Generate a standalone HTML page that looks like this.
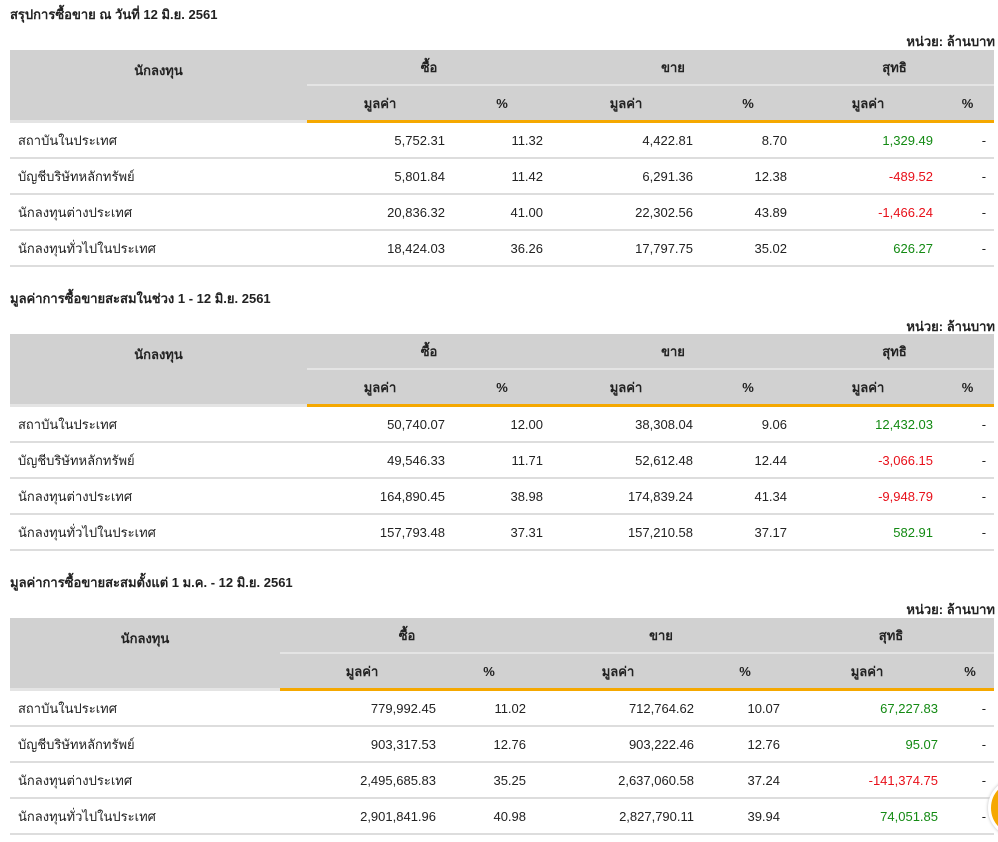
<!DOCTYPE html>
<html><head><meta charset="utf-8">
<style>
body{margin:0;width:998px;height:842px;overflow:hidden;background:#fff;font-family:"Liberation Sans","Noto Sans CJK SC",sans-serif;color:#222;font-size:13px;position:relative}
.t{position:absolute;left:10px;font-weight:bold;font-size:13px}
.u{position:absolute;right:3px;font-weight:bold;font-size:13px}
table{position:absolute;left:10px;border-collapse:separate;border-spacing:0;table-layout:fixed;width:984px}
th{background:#d1d1d1;font-weight:bold;font-size:13px;height:34px;padding:0;text-align:center}
tr.h1 th{border-bottom:2px solid #e4e4e4}
tr.h2 th{height:34px;border-bottom:3px solid #f5a800}
th.inv{vertical-align:top;padding-top:10px;border-bottom:3px solid #e4e4e4 !important}
td{height:34px;border-bottom:2px solid #ddd;padding:0 8px 0 0;text-align:right;font-size:13px}
td.n{text-align:left;padding-left:8px}
.g{color:#138a13}.r{color:#e8101a}
.c{position:absolute;left:988px;top:778px;width:54px;height:54px;border-radius:50%;background:#f5a800;border:3px solid #fff;box-shadow:0 0 3px #bbb}
</style></head><body>
<div class="t" style="top:4px">สรุปการซื้อขาย ณ วันที่ 12 มิ.ย. 2561</div>
<div class="u" style="top:31px">หน่วย: ล้านบาท</div>
<table style="top:50px">
<colgroup><col style="width:297px"><col style="width:146px"><col style="width:98px"><col style="width:150px"><col style="width:94px"><col style="width:146px"><col style="width:53px"></colgroup>
<tr class="h1"><th rowspan="2" class="inv">นักลงทุน</th><th colspan="2">ซื้อ</th><th colspan="2">ขาย</th><th colspan="2">สุทธิ</th></tr>
<tr class="h2"><th>มูลค่า</th><th>%</th><th>มูลค่า</th><th>%</th><th>มูลค่า</th><th>%</th></tr>
<tr><td class="n">สถาบันในประเทศ</td><td>5,752.31</td><td>11.32</td><td>4,422.81</td><td>8.70</td><td class="g">1,329.49</td><td>-</td></tr>
<tr><td class="n">บัญชีบริษัทหลักทรัพย์</td><td>5,801.84</td><td>11.42</td><td>6,291.36</td><td>12.38</td><td class="r">-489.52</td><td>-</td></tr>
<tr><td class="n">นักลงทุนต่างประเทศ</td><td>20,836.32</td><td>41.00</td><td>22,302.56</td><td>43.89</td><td class="r">-1,466.24</td><td>-</td></tr>
<tr><td class="n">นักลงทุนทั่วไปในประเทศ</td><td>18,424.03</td><td>36.26</td><td>17,797.75</td><td>35.02</td><td class="g">626.27</td><td>-</td></tr>
</table>

<div class="t" style="top:288px">มูลค่าการซื้อขายสะสมในช่วง 1 - 12 มิ.ย. 2561</div>
<div class="u" style="top:316px">หน่วย: ล้านบาท</div>
<table style="top:334px">
<colgroup><col style="width:297px"><col style="width:146px"><col style="width:98px"><col style="width:150px"><col style="width:94px"><col style="width:146px"><col style="width:53px"></colgroup>
<tr class="h1"><th rowspan="2" class="inv">นักลงทุน</th><th colspan="2">ซื้อ</th><th colspan="2">ขาย</th><th colspan="2">สุทธิ</th></tr>
<tr class="h2"><th>มูลค่า</th><th>%</th><th>มูลค่า</th><th>%</th><th>มูลค่า</th><th>%</th></tr>
<tr><td class="n">สถาบันในประเทศ</td><td>50,740.07</td><td>12.00</td><td>38,308.04</td><td>9.06</td><td class="g">12,432.03</td><td>-</td></tr>
<tr><td class="n">บัญชีบริษัทหลักทรัพย์</td><td>49,546.33</td><td>11.71</td><td>52,612.48</td><td>12.44</td><td class="r">-3,066.15</td><td>-</td></tr>
<tr><td class="n">นักลงทุนต่างประเทศ</td><td>164,890.45</td><td>38.98</td><td>174,839.24</td><td>41.34</td><td class="r">-9,948.79</td><td>-</td></tr>
<tr><td class="n">นักลงทุนทั่วไปในประเทศ</td><td>157,793.48</td><td>37.31</td><td>157,210.58</td><td>37.17</td><td class="g">582.91</td><td>-</td></tr>
</table>

<div class="t" style="top:572px">มูลค่าการซื้อขายสะสมตั้งแต่ 1 ม.ค. - 12 มิ.ย. 2561</div>
<div class="u" style="top:599px">หน่วย: ล้านบาท</div>
<table style="top:618px">
<colgroup><col style="width:270px"><col style="width:164px"><col style="width:90px"><col style="width:168px"><col style="width:86px"><col style="width:158px"><col style="width:48px"></colgroup>
<tr class="h1"><th rowspan="2" class="inv">นักลงทุน</th><th colspan="2">ซื้อ</th><th colspan="2">ขาย</th><th colspan="2">สุทธิ</th></tr>
<tr class="h2"><th>มูลค่า</th><th>%</th><th>มูลค่า</th><th>%</th><th>มูลค่า</th><th>%</th></tr>
<tr><td class="n">สถาบันในประเทศ</td><td>779,992.45</td><td>11.02</td><td>712,764.62</td><td>10.07</td><td class="g">67,227.83</td><td>-</td></tr>
<tr><td class="n">บัญชีบริษัทหลักทรัพย์</td><td>903,317.53</td><td>12.76</td><td>903,222.46</td><td>12.76</td><td class="g">95.07</td><td>-</td></tr>
<tr><td class="n">นักลงทุนต่างประเทศ</td><td>2,495,685.83</td><td>35.25</td><td>2,637,060.58</td><td>37.24</td><td class="r">-141,374.75</td><td>-</td></tr>
<tr><td class="n">นักลงทุนทั่วไปในประเทศ</td><td>2,901,841.96</td><td>40.98</td><td>2,827,790.11</td><td>39.94</td><td class="g">74,051.85</td><td>-</td></tr>
</table>
<div class="c"></div>
</body></html>
